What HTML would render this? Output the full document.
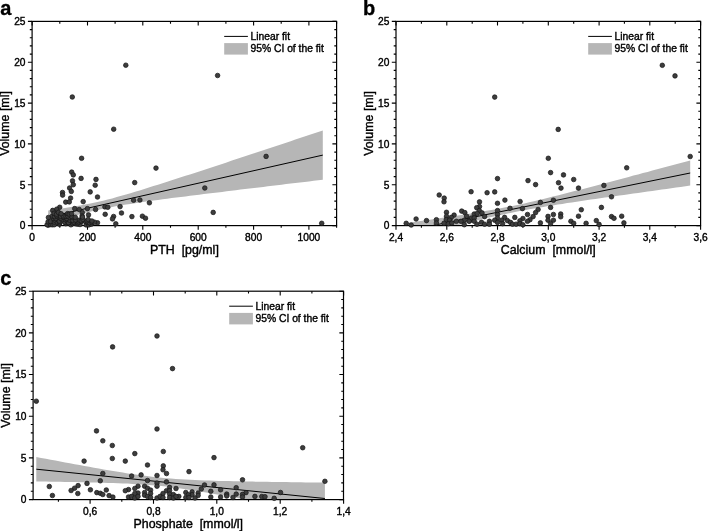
<!DOCTYPE html>
<html lang="en"><head><meta charset="utf-8"><title>Volume vs PTH, Calcium, Phosphate</title>
<style>html,body{margin:0;padding:0;background:#fff}svg{display:block;filter:grayscale(1)}text{font-family:"Liberation Sans",Arial,sans-serif;fill:#000;stroke:#000;stroke-width:.38px}.tk{font-size:10.2px}.ax{font-size:12.4px;stroke-width:.4px}.lg{font-size:10.3px}.pl{font-size:20px;font-weight:bold;stroke-width:.3px}.d circle{fill:#3d3d3d;stroke:#161616;stroke-width:.7}.fr{fill:none;stroke:#000;stroke-width:1.2}.t{stroke:#000;stroke-width:1.1}.band{fill:#b6b6b6}.fit{stroke:#000;stroke-width:1;fill:none}</style></head><body>
<svg width="708" height="531" viewBox="0 0 708 531">
<rect width="708" height="531" fill="#fff"/>
<g id="panel-a">
<clipPath id="clip-a"><rect x="32.1" y="21.4" width="304.5" height="204.2"/></clipPath>
<g clip-path="url(#clip-a)"><polygon class="band" points="48.2,210.4 52.7,209.8 57.3,209.1 61.9,208.5 66.5,207.8 71.0,207.0 75.6,206.3 80.2,205.5 84.8,204.6 89.3,203.7 93.9,202.8 98.5,201.8 103.1,200.7 107.7,199.5 112.2,198.4 116.8,197.1 121.4,195.8 126.0,194.5 130.5,193.2 135.1,191.8 139.7,190.4 144.3,189.0 148.8,187.6 153.4,186.1 158.0,184.7 162.6,183.2 167.2,181.8 171.7,180.3 176.3,178.8 180.9,177.3 185.5,175.8 190.0,174.4 194.6,172.9 199.2,171.4 203.8,169.9 208.3,168.4 212.9,166.9 217.5,165.4 222.1,163.9 226.6,162.4 231.2,160.8 235.8,159.3 240.4,157.8 245.0,156.3 249.5,154.8 254.1,153.3 258.7,151.8 263.3,150.3 267.8,148.7 272.4,147.2 277.0,145.7 281.6,144.2 286.1,142.7 290.7,141.2 295.3,139.6 299.9,138.1 304.5,136.6 309.0,135.1 313.6,133.6 318.2,132.1 322.8,130.5 322.8,179.7 318.2,180.3 313.6,180.8 309.0,181.4 304.5,181.9 299.9,182.5 295.3,183.0 290.7,183.6 286.1,184.1 281.6,184.7 277.0,185.2 272.4,185.8 267.8,186.3 263.3,186.9 258.7,187.4 254.1,188.0 249.5,188.5 245.0,189.1 240.4,189.6 235.8,190.2 231.2,190.7 226.6,191.3 222.1,191.9 217.5,192.4 212.9,193.0 208.3,193.5 203.8,194.1 199.2,194.7 194.6,195.2 190.0,195.8 185.5,196.4 180.9,197.0 176.3,197.6 171.7,198.1 167.2,198.7 162.6,199.3 158.0,200.0 153.4,200.6 148.8,201.2 144.3,201.8 139.7,202.5 135.1,203.2 130.5,203.9 126.0,204.6 121.4,205.3 116.8,206.1 112.2,206.9 107.7,207.8 103.1,208.7 98.5,209.7 93.9,210.8 89.3,211.9 84.8,213.1 80.2,214.3 75.6,215.6 71.0,216.9 66.5,218.2 61.9,219.6 57.3,221.0 52.7,222.4 48.2,223.8"/>
<line class="fit" x1="48.2" y1="217.1" x2="322.8" y2="155.1"/></g>
<rect class="fr" x="32.1" y="21.4" width="304.5" height="204.2"/>
<path class="t" d="M32.1 225.55v4.2M32.1 21.4v4.2M87.5 225.55v4.2M87.5 21.4v4.2M142.8 225.55v4.2M142.8 21.4v4.2M198.2 225.55v4.2M198.2 21.4v4.2M253.6 225.55v4.2M253.6 21.4v4.2M308.9 225.55v4.2M308.9 21.4v4.2M59.8 225.55v2.3M59.8 21.4v2.3M115.1 225.55v2.3M115.1 21.4v2.3M170.5 225.55v2.3M170.5 21.4v2.3M225.9 225.55v2.3M225.9 21.4v2.3M281.2 225.55v2.3M281.2 21.4v2.3M336.6 225.55v2.3M336.6 21.4v2.3M32.1 225.6h-4.2M336.6 225.6h-4.2M32.1 217.4h-2.3M336.6 217.4h-2.3M32.1 209.2h-2.3M336.6 209.2h-2.3M32.1 201.1h-2.3M336.6 201.1h-2.3M32.1 192.9h-2.3M336.6 192.9h-2.3M32.1 184.7h-4.2M336.6 184.7h-4.2M32.1 176.6h-2.3M336.6 176.6h-2.3M32.1 168.4h-2.3M336.6 168.4h-2.3M32.1 160.2h-2.3M336.6 160.2h-2.3M32.1 152.1h-2.3M336.6 152.1h-2.3M32.1 143.9h-4.2M336.6 143.9h-4.2M32.1 135.7h-2.3M336.6 135.7h-2.3M32.1 127.6h-2.3M336.6 127.6h-2.3M32.1 119.4h-2.3M336.6 119.4h-2.3M32.1 111.2h-2.3M336.6 111.2h-2.3M32.1 103.1h-4.2M336.6 103.1h-4.2M32.1 94.9h-2.3M336.6 94.9h-2.3M32.1 86.7h-2.3M336.6 86.7h-2.3M32.1 78.6h-2.3M336.6 78.6h-2.3M32.1 70.4h-2.3M336.6 70.4h-2.3M32.1 62.2h-4.2M336.6 62.2h-4.2M32.1 54.1h-2.3M336.6 54.1h-2.3M32.1 45.9h-2.3M336.6 45.9h-2.3M32.1 37.7h-2.3M336.6 37.7h-2.3M32.1 29.6h-2.3M336.6 29.6h-2.3M32.1 21.4h-4.2M336.6 21.4h-4.2"/>
<g class="d">
<circle cx="71.7" cy="172.1" r="2.3"/>
<circle cx="73.3" cy="174.9" r="2.3"/>
<circle cx="81.1" cy="178.4" r="2.3"/>
<circle cx="96.0" cy="179.4" r="2.3"/>
<circle cx="72.5" cy="180.9" r="2.3"/>
<circle cx="73.3" cy="184.7" r="2.3"/>
<circle cx="95.2" cy="185.2" r="2.3"/>
<circle cx="69.6" cy="188.0" r="2.3"/>
<circle cx="71.3" cy="191.4" r="2.3"/>
<circle cx="62.5" cy="192.5" r="2.3"/>
<circle cx="62.6" cy="195.1" r="2.3"/>
<circle cx="90.2" cy="191.9" r="2.3"/>
<circle cx="97.5" cy="197.0" r="2.3"/>
<circle cx="70.6" cy="198.1" r="2.3"/>
<circle cx="65.7" cy="202.1" r="2.3"/>
<circle cx="69.3" cy="201.9" r="2.3"/>
<circle cx="83.2" cy="201.6" r="2.3"/>
<circle cx="59.7" cy="207.3" r="2.3"/>
<circle cx="56.7" cy="209.2" r="2.3"/>
<circle cx="52.7" cy="210.4" r="2.3"/>
<circle cx="74.7" cy="208.6" r="2.3"/>
<circle cx="79.2" cy="209.5" r="2.3"/>
<circle cx="87.4" cy="208.6" r="2.3"/>
<circle cx="95.6" cy="209.5" r="2.3"/>
<circle cx="104.9" cy="206.9" r="2.3"/>
<circle cx="107.8" cy="207.3" r="2.3"/>
<circle cx="105.2" cy="214.3" r="2.3"/>
<circle cx="82.3" cy="212.6" r="2.3"/>
<circle cx="88.5" cy="214.9" r="2.3"/>
<circle cx="82.1" cy="216.0" r="2.3"/>
<circle cx="48.4" cy="217.5" r="2.3"/>
<circle cx="97.5" cy="222.8" r="2.3"/>
<circle cx="48.2" cy="225.2" r="2.3"/>
<circle cx="50.4" cy="223.1" r="2.3"/>
<circle cx="156.0" cy="168.1" r="2.3"/>
<circle cx="134.7" cy="182.6" r="2.3"/>
<circle cx="133.6" cy="200.2" r="2.3"/>
<circle cx="139.9" cy="200.0" r="2.3"/>
<circle cx="149.4" cy="202.8" r="2.3"/>
<circle cx="120.1" cy="206.6" r="2.3"/>
<circle cx="121.5" cy="213.0" r="2.3"/>
<circle cx="113.6" cy="216.5" r="2.3"/>
<circle cx="112.5" cy="218.9" r="2.3"/>
<circle cx="131.9" cy="216.6" r="2.3"/>
<circle cx="142.4" cy="216.2" r="2.3"/>
<circle cx="145.5" cy="218.2" r="2.3"/>
<circle cx="115.8" cy="223.8" r="2.3"/>
<circle cx="113.7" cy="129.2" r="2.3"/>
<circle cx="266.1" cy="156.4" r="2.3"/>
<circle cx="204.8" cy="188.0" r="2.3"/>
<circle cx="213.2" cy="212.4" r="2.3"/>
<circle cx="321.7" cy="223.3" r="2.3"/>
<circle cx="125.8" cy="65.2" r="2.3"/>
<circle cx="72.3" cy="97.0" r="2.3"/>
<circle cx="217.6" cy="75.5" r="2.3"/>
<circle cx="81.6" cy="158.3" r="2.3"/>
<circle cx="47.1" cy="224.7" r="2.3"/>
<circle cx="50.7" cy="224.6" r="2.3"/>
<circle cx="52.4" cy="224.8" r="2.3"/>
<circle cx="54.3" cy="224.7" r="2.3"/>
<circle cx="59.3" cy="224.2" r="2.3"/>
<circle cx="65.8" cy="223.7" r="2.3"/>
<circle cx="70.9" cy="224.8" r="2.3"/>
<circle cx="72.5" cy="223.6" r="2.3"/>
<circle cx="75.9" cy="223.8" r="2.3"/>
<circle cx="77.7" cy="224.1" r="2.3"/>
<circle cx="80.0" cy="224.5" r="2.3"/>
<circle cx="86.2" cy="224.9" r="2.3"/>
<circle cx="88.8" cy="224.9" r="2.3"/>
<circle cx="91.3" cy="224.2" r="2.3"/>
<circle cx="48.1" cy="221.8" r="2.3"/>
<circle cx="50.6" cy="221.5" r="2.3"/>
<circle cx="54.3" cy="222.1" r="2.3"/>
<circle cx="57.1" cy="222.1" r="2.3"/>
<circle cx="59.9" cy="223.0" r="2.3"/>
<circle cx="60.4" cy="221.8" r="2.3"/>
<circle cx="65.0" cy="222.3" r="2.3"/>
<circle cx="67.8" cy="222.1" r="2.3"/>
<circle cx="68.4" cy="222.6" r="2.3"/>
<circle cx="72.5" cy="221.9" r="2.3"/>
<circle cx="73.6" cy="222.0" r="2.3"/>
<circle cx="78.1" cy="222.9" r="2.3"/>
<circle cx="78.9" cy="221.9" r="2.3"/>
<circle cx="81.4" cy="221.5" r="2.3"/>
<circle cx="85.6" cy="221.7" r="2.3"/>
<circle cx="87.6" cy="222.3" r="2.3"/>
<circle cx="89.4" cy="222.8" r="2.3"/>
<circle cx="91.9" cy="222.6" r="2.3"/>
<circle cx="94.5" cy="222.2" r="2.3"/>
<circle cx="54.4" cy="219.9" r="2.3"/>
<circle cx="58.4" cy="220.4" r="2.3"/>
<circle cx="59.3" cy="221.1" r="2.3"/>
<circle cx="62.2" cy="219.6" r="2.3"/>
<circle cx="66.0" cy="219.8" r="2.3"/>
<circle cx="67.6" cy="219.3" r="2.3"/>
<circle cx="69.7" cy="220.2" r="2.3"/>
<circle cx="72.6" cy="220.3" r="2.3"/>
<circle cx="75.5" cy="220.0" r="2.3"/>
<circle cx="79.4" cy="220.1" r="2.3"/>
<circle cx="81.2" cy="220.8" r="2.3"/>
<circle cx="82.9" cy="219.4" r="2.3"/>
<circle cx="87.1" cy="220.7" r="2.3"/>
<circle cx="88.2" cy="219.5" r="2.3"/>
<circle cx="91.9" cy="221.0" r="2.3"/>
<circle cx="53.1" cy="218.3" r="2.3"/>
<circle cx="55.8" cy="218.5" r="2.3"/>
<circle cx="59.1" cy="217.5" r="2.3"/>
<circle cx="60.8" cy="218.3" r="2.3"/>
<circle cx="63.2" cy="217.3" r="2.3"/>
<circle cx="66.8" cy="218.5" r="2.3"/>
<circle cx="69.6" cy="217.4" r="2.3"/>
<circle cx="72.8" cy="217.2" r="2.3"/>
<circle cx="82.5" cy="217.1" r="2.3"/>
<circle cx="52.4" cy="216.1" r="2.3"/>
<circle cx="54.6" cy="216.6" r="2.3"/>
<circle cx="56.7" cy="215.7" r="2.3"/>
<circle cx="60.7" cy="216.4" r="2.3"/>
<circle cx="63.3" cy="216.0" r="2.3"/>
<circle cx="66.0" cy="216.4" r="2.3"/>
<circle cx="67.7" cy="216.0" r="2.3"/>
<circle cx="71.5" cy="216.3" r="2.3"/>
<circle cx="54.1" cy="213.3" r="2.3"/>
<circle cx="56.5" cy="214.2" r="2.3"/>
<circle cx="58.4" cy="212.4" r="2.3"/>
<circle cx="61.1" cy="213.7" r="2.3"/>
<circle cx="67.6" cy="213.6" r="2.3"/>
<circle cx="69.2" cy="214.1" r="2.3"/>
<circle cx="71.5" cy="213.7" r="2.3"/>
<circle cx="75.3" cy="217.2" r="2.3"/>
</g>
<text class="tk" x="32.1" y="240.9" text-anchor="middle">0</text>
<text class="tk" x="87.5" y="240.9" text-anchor="middle">200</text>
<text class="tk" x="142.8" y="240.9" text-anchor="middle">400</text>
<text class="tk" x="198.2" y="240.9" text-anchor="middle">600</text>
<text class="tk" x="253.6" y="240.9" text-anchor="middle">800</text>
<text class="tk" x="308.9" y="240.9" text-anchor="middle">1000</text>
<text class="tk" x="25.5" y="229.4" text-anchor="end">0</text>
<text class="tk" x="25.5" y="188.5" text-anchor="end">5</text>
<text class="tk" x="25.5" y="147.7" text-anchor="end">10</text>
<text class="tk" x="25.5" y="106.9" text-anchor="end">15</text>
<text class="tk" x="25.5" y="66.0" text-anchor="end">20</text>
<text class="tk" x="25.5" y="25.2" text-anchor="end">25</text>
<text class="ax" x="184.4" y="254.0" text-anchor="middle" xml:space="preserve">PTH  [pg/ml]</text>
<text class="ax" transform="translate(9.4 123.5) rotate(-90)" text-anchor="middle">Volume [ml]</text>
<line class="fit" x1="224.2" y1="36.4" x2="247.9" y2="36.4"/>
<text class="lg" x="250.5" y="39.9">Linear fit</text>
<rect x="224.2" y="43.1" width="23.7" height="11.5" fill="#b6b6b6"/>
<text class="lg" x="250.5" y="52.4">95% CI of the fit</text>
<text class="pl" x="0.3" y="14.6">a</text>
</g>
<g id="panel-b">
<clipPath id="clip-b"><rect x="396.0" y="21.4" width="304.6" height="204.2"/></clipPath>
<g clip-path="url(#clip-b)"><polygon class="band" points="406.2,223.1 410.9,222.4 415.6,221.8 420.4,221.1 425.1,220.4 429.8,219.7 434.6,219.0 439.3,218.3 444.0,217.6 448.8,216.9 453.5,216.2 458.2,215.5 463.0,214.7 467.7,214.0 472.4,213.2 477.2,212.5 481.9,211.7 486.6,210.8 491.4,210.0 496.1,209.2 500.8,208.3 505.6,207.3 510.3,206.4 515.0,205.4 519.8,204.4 524.5,203.4 529.2,202.3 534.0,201.2 538.7,200.1 543.4,199.0 548.2,197.8 552.9,196.6 557.6,195.4 562.4,194.3 567.1,193.0 571.8,191.8 576.6,190.6 581.3,189.4 586.0,188.2 590.8,186.9 595.5,185.7 600.2,184.4 605.0,183.2 609.7,181.9 614.4,180.7 619.2,179.4 623.9,178.2 628.7,176.9 633.4,175.6 638.1,174.4 642.9,173.1 647.6,171.9 652.3,170.6 657.1,169.3 661.8,168.0 666.5,166.8 671.3,165.5 676.0,164.2 680.7,163.0 685.5,161.7 690.2,160.4 690.2,185.6 685.5,186.3 680.7,187.0 676.0,187.6 671.3,188.3 666.5,188.9 661.8,189.6 657.1,190.2 652.3,190.9 647.6,191.6 642.9,192.2 638.1,192.9 633.4,193.6 628.7,194.2 623.9,194.9 619.2,195.6 614.4,196.2 609.7,196.9 605.0,197.6 600.2,198.3 595.5,198.9 590.8,199.6 586.0,200.3 581.3,201.0 576.6,201.7 571.8,202.4 567.1,203.1 562.4,203.9 557.6,204.6 552.9,205.4 548.2,206.1 543.4,206.9 538.7,207.7 534.0,208.5 529.2,209.3 524.5,210.2 519.8,211.1 515.0,212.0 510.3,212.9 505.6,213.9 500.8,214.9 496.1,216.0 491.4,217.0 486.6,218.1 481.9,219.2 477.2,220.4 472.4,221.5 467.7,222.7 463.0,223.9 458.2,225.1 453.5,226.3 448.8,227.5 444.0,228.7 439.3,229.9 434.6,231.2 429.8,232.4 425.1,233.6 420.4,234.9 415.6,236.1 410.9,237.4 406.2,238.6"/>
<line class="fit" x1="406.2" y1="230.9" x2="690.2" y2="173.0"/></g>
<rect class="fr" x="396.0" y="21.4" width="304.6" height="204.2"/>
<path class="t" d="M396.0 225.55v4.2M396.0 21.4v4.2M446.8 225.55v4.2M446.8 21.4v4.2M497.5 225.55v4.2M497.5 21.4v4.2M548.3 225.55v4.2M548.3 21.4v4.2M599.1 225.55v4.2M599.1 21.4v4.2M649.8 225.55v4.2M649.8 21.4v4.2M700.6 225.55v4.2M700.6 21.4v4.2M421.4 225.55v2.3M421.4 21.4v2.3M472.2 225.55v2.3M472.2 21.4v2.3M522.9 225.55v2.3M522.9 21.4v2.3M573.7 225.55v2.3M573.7 21.4v2.3M624.4 225.55v2.3M624.4 21.4v2.3M675.2 225.55v2.3M675.2 21.4v2.3M396.0 225.6h-4.2M700.6 225.6h-4.2M396.0 217.4h-2.3M700.6 217.4h-2.3M396.0 209.2h-2.3M700.6 209.2h-2.3M396.0 201.1h-2.3M700.6 201.1h-2.3M396.0 192.9h-2.3M700.6 192.9h-2.3M396.0 184.7h-4.2M700.6 184.7h-4.2M396.0 176.6h-2.3M700.6 176.6h-2.3M396.0 168.4h-2.3M700.6 168.4h-2.3M396.0 160.2h-2.3M700.6 160.2h-2.3M396.0 152.1h-2.3M700.6 152.1h-2.3M396.0 143.9h-4.2M700.6 143.9h-4.2M396.0 135.7h-2.3M700.6 135.7h-2.3M396.0 127.6h-2.3M700.6 127.6h-2.3M396.0 119.4h-2.3M700.6 119.4h-2.3M396.0 111.2h-2.3M700.6 111.2h-2.3M396.0 103.1h-4.2M700.6 103.1h-4.2M396.0 94.9h-2.3M700.6 94.9h-2.3M396.0 86.7h-2.3M700.6 86.7h-2.3M396.0 78.6h-2.3M700.6 78.6h-2.3M396.0 70.4h-2.3M700.6 70.4h-2.3M396.0 62.2h-4.2M700.6 62.2h-4.2M396.0 54.1h-2.3M700.6 54.1h-2.3M396.0 45.9h-2.3M700.6 45.9h-2.3M396.0 37.7h-2.3M700.6 37.7h-2.3M396.0 29.6h-2.3M700.6 29.6h-2.3M396.0 21.4h-4.2M700.6 21.4h-4.2"/>
<g class="d">
<circle cx="406.2" cy="223.3" r="2.3"/>
<circle cx="411.2" cy="225.0" r="2.3"/>
<circle cx="416.1" cy="219.0" r="2.3"/>
<circle cx="426.5" cy="220.6" r="2.3"/>
<circle cx="436.4" cy="219.7" r="2.3"/>
<circle cx="436.4" cy="223.0" r="2.3"/>
<circle cx="439.2" cy="195.0" r="2.3"/>
<circle cx="444.2" cy="198.1" r="2.3"/>
<circle cx="444.0" cy="201.8" r="2.3"/>
<circle cx="446.5" cy="212.3" r="2.3"/>
<circle cx="446.5" cy="216.2" r="2.3"/>
<circle cx="446.3" cy="219.7" r="2.3"/>
<circle cx="444.0" cy="223.3" r="2.3"/>
<circle cx="454.1" cy="215.1" r="2.3"/>
<circle cx="451.3" cy="217.4" r="2.3"/>
<circle cx="449.6" cy="220.2" r="2.3"/>
<circle cx="448.5" cy="223.7" r="2.3"/>
<circle cx="451.8" cy="223.0" r="2.3"/>
<circle cx="456.4" cy="221.3" r="2.3"/>
<circle cx="461.7" cy="211.1" r="2.3"/>
<circle cx="464.8" cy="212.6" r="2.3"/>
<circle cx="466.6" cy="216.2" r="2.3"/>
<circle cx="464.3" cy="220.2" r="2.3"/>
<circle cx="461.0" cy="221.3" r="2.3"/>
<circle cx="464.3" cy="224.7" r="2.3"/>
<circle cx="471.1" cy="191.7" r="2.3"/>
<circle cx="469.6" cy="220.8" r="2.3"/>
<circle cx="471.4" cy="218.0" r="2.3"/>
<circle cx="497.5" cy="178.6" r="2.3"/>
<circle cx="528.0" cy="180.6" r="2.3"/>
<circle cx="535.6" cy="184.6" r="2.3"/>
<circle cx="487.1" cy="192.7" r="2.3"/>
<circle cx="494.7" cy="191.9" r="2.3"/>
<circle cx="504.9" cy="200.1" r="2.3"/>
<circle cx="520.1" cy="201.5" r="2.3"/>
<circle cx="479.5" cy="201.9" r="2.3"/>
<circle cx="497.5" cy="203.3" r="2.3"/>
<circle cx="540.4" cy="202.4" r="2.3"/>
<circle cx="479.5" cy="206.6" r="2.3"/>
<circle cx="476.7" cy="207.7" r="2.3"/>
<circle cx="510.0" cy="208.3" r="2.3"/>
<circle cx="522.4" cy="208.6" r="2.3"/>
<circle cx="538.1" cy="209.5" r="2.3"/>
<circle cx="497.5" cy="210.6" r="2.3"/>
<circle cx="479.3" cy="210.6" r="2.3"/>
<circle cx="535.6" cy="212.6" r="2.3"/>
<circle cx="482.0" cy="212.9" r="2.3"/>
<circle cx="474.2" cy="214.0" r="2.3"/>
<circle cx="477.2" cy="213.5" r="2.3"/>
<circle cx="527.5" cy="214.5" r="2.3"/>
<circle cx="497.5" cy="214.5" r="2.3"/>
<circle cx="484.6" cy="216.6" r="2.3"/>
<circle cx="533.1" cy="216.6" r="2.3"/>
<circle cx="504.6" cy="217.4" r="2.3"/>
<circle cx="514.8" cy="217.4" r="2.3"/>
<circle cx="497.5" cy="218.0" r="2.3"/>
<circle cx="522.9" cy="218.5" r="2.3"/>
<circle cx="530.0" cy="219.7" r="2.3"/>
<circle cx="474.2" cy="218.0" r="2.3"/>
<circle cx="494.7" cy="220.2" r="2.3"/>
<circle cx="501.8" cy="220.2" r="2.3"/>
<circle cx="507.4" cy="220.6" r="2.3"/>
<circle cx="519.9" cy="220.8" r="2.3"/>
<circle cx="527.5" cy="221.3" r="2.3"/>
<circle cx="489.4" cy="221.3" r="2.3"/>
<circle cx="481.5" cy="222.3" r="2.3"/>
<circle cx="540.4" cy="222.9" r="2.3"/>
<circle cx="469.1" cy="221.3" r="2.3"/>
<circle cx="474.2" cy="221.3" r="2.3"/>
<circle cx="477.0" cy="224.2" r="2.3"/>
<circle cx="484.6" cy="224.2" r="2.3"/>
<circle cx="489.4" cy="224.2" r="2.3"/>
<circle cx="497.5" cy="222.4" r="2.3"/>
<circle cx="502.6" cy="223.7" r="2.3"/>
<circle cx="510.5" cy="222.4" r="2.3"/>
<circle cx="512.5" cy="224.2" r="2.3"/>
<circle cx="516.1" cy="224.2" r="2.3"/>
<circle cx="519.9" cy="223.7" r="2.3"/>
<circle cx="522.9" cy="224.7" r="2.3"/>
<circle cx="550.6" cy="172.6" r="2.3"/>
<circle cx="563.5" cy="174.9" r="2.3"/>
<circle cx="573.7" cy="179.5" r="2.3"/>
<circle cx="558.5" cy="182.7" r="2.3"/>
<circle cx="561.0" cy="188.1" r="2.3"/>
<circle cx="578.5" cy="188.1" r="2.3"/>
<circle cx="603.9" cy="185.4" r="2.3"/>
<circle cx="611.5" cy="196.8" r="2.3"/>
<circle cx="553.4" cy="200.2" r="2.3"/>
<circle cx="550.6" cy="207.4" r="2.3"/>
<circle cx="601.4" cy="207.4" r="2.3"/>
<circle cx="581.3" cy="209.7" r="2.3"/>
<circle cx="553.4" cy="214.5" r="2.3"/>
<circle cx="560.7" cy="214.0" r="2.3"/>
<circle cx="560.7" cy="216.8" r="2.3"/>
<circle cx="578.5" cy="216.2" r="2.3"/>
<circle cx="548.0" cy="216.4" r="2.3"/>
<circle cx="548.0" cy="220.2" r="2.3"/>
<circle cx="553.4" cy="220.2" r="2.3"/>
<circle cx="550.6" cy="223.6" r="2.3"/>
<circle cx="570.9" cy="221.3" r="2.3"/>
<circle cx="573.7" cy="223.3" r="2.3"/>
<circle cx="586.1" cy="223.3" r="2.3"/>
<circle cx="596.3" cy="220.6" r="2.3"/>
<circle cx="599.1" cy="224.4" r="2.3"/>
<circle cx="611.5" cy="216.6" r="2.3"/>
<circle cx="614.0" cy="218.3" r="2.3"/>
<circle cx="621.7" cy="216.2" r="2.3"/>
<circle cx="623.9" cy="222.9" r="2.3"/>
<circle cx="662.3" cy="65.3" r="2.3"/>
<circle cx="675.0" cy="75.9" r="2.3"/>
<circle cx="558.2" cy="129.4" r="2.3"/>
<circle cx="690.2" cy="156.5" r="2.3"/>
<circle cx="626.7" cy="167.8" r="2.3"/>
<circle cx="494.7" cy="97.1" r="2.3"/>
<circle cx="548.3" cy="158.3" r="2.3"/>
</g>
<text class="tk" x="396.0" y="240.9" text-anchor="middle">2,4</text>
<text class="tk" x="446.8" y="240.9" text-anchor="middle">2,6</text>
<text class="tk" x="497.5" y="240.9" text-anchor="middle">2,8</text>
<text class="tk" x="548.3" y="240.9" text-anchor="middle">3,0</text>
<text class="tk" x="599.1" y="240.9" text-anchor="middle">3,2</text>
<text class="tk" x="649.8" y="240.9" text-anchor="middle">3,4</text>
<text class="tk" x="700.6" y="240.9" text-anchor="middle">3,6</text>
<text class="tk" x="389.4" y="229.4" text-anchor="end">0</text>
<text class="tk" x="389.4" y="188.5" text-anchor="end">5</text>
<text class="tk" x="389.4" y="147.7" text-anchor="end">10</text>
<text class="tk" x="389.4" y="106.9" text-anchor="end">15</text>
<text class="tk" x="389.4" y="66.0" text-anchor="end">20</text>
<text class="tk" x="389.4" y="25.2" text-anchor="end">25</text>
<text class="ax" x="548.3" y="254.0" text-anchor="middle" xml:space="preserve">Calcium  [mmol/l]</text>
<text class="ax" transform="translate(373.3 123.5) rotate(-90)" text-anchor="middle">Volume [ml]</text>
<line class="fit" x1="588.2" y1="36.4" x2="611.9" y2="36.4"/>
<text class="lg" x="614.5" y="39.9">Linear fit</text>
<rect x="588.2" y="43.1" width="23.7" height="11.5" fill="#b6b6b6"/>
<text class="lg" x="614.5" y="52.4">95% CI of the fit</text>
<text class="pl" x="363.0" y="14.6">b</text>
</g>
<g id="panel-c">
<clipPath id="clip-c"><rect x="33.1" y="291.2" width="310.4" height="208.4"/></clipPath>
<g clip-path="url(#clip-c)"><polygon class="band" points="36.3,457.0 41.1,457.9 45.9,458.8 50.7,459.7 55.5,460.6 60.3,461.5 65.1,462.4 69.9,463.3 74.7,464.2 79.6,465.1 84.4,465.9 89.2,466.8 94.0,467.7 98.8,468.5 103.6,469.4 108.4,470.2 113.2,471.0 118.0,471.8 122.8,472.6 127.7,473.4 132.5,474.1 137.3,474.8 142.1,475.5 146.9,476.1 151.7,476.7 156.5,477.3 161.3,477.8 166.1,478.2 170.9,478.6 175.8,479.0 180.6,479.3 185.4,479.6 190.2,479.8 195.0,480.0 199.8,480.2 204.6,480.4 209.4,480.6 214.2,480.7 219.0,480.9 223.9,481.0 228.7,481.1 233.5,481.2 238.3,481.3 243.1,481.4 247.9,481.5 252.7,481.6 257.5,481.7 262.3,481.8 267.1,481.8 272.0,481.9 276.8,482.0 281.6,482.1 286.4,482.1 291.2,482.2 296.0,482.2 300.8,482.3 305.6,482.4 310.4,482.4 315.2,482.5 320.0,482.5 324.9,482.6 324.9,514.5 320.0,513.6 315.2,512.6 310.4,511.7 305.6,510.8 300.8,509.9 296.0,509.0 291.2,508.1 286.4,507.1 281.6,506.2 276.8,505.3 272.0,504.4 267.1,503.5 262.3,502.6 257.5,501.7 252.7,500.8 247.9,499.9 243.1,499.0 238.3,498.2 233.5,497.3 228.7,496.4 223.9,495.6 219.0,494.7 214.2,493.9 209.4,493.0 204.6,492.2 199.8,491.4 195.0,490.7 190.2,489.9 185.4,489.2 180.6,488.5 175.8,487.8 170.9,487.2 166.1,486.6 161.3,486.1 156.5,485.6 151.7,485.2 146.9,484.8 142.1,484.5 137.3,484.2 132.5,483.9 127.7,483.6 122.8,483.4 118.0,483.2 113.2,483.1 108.4,482.9 103.6,482.8 98.8,482.6 94.0,482.5 89.2,482.4 84.4,482.3 79.6,482.2 74.7,482.1 69.9,482.0 65.1,481.9 60.3,481.8 55.5,481.8 50.7,481.7 45.9,481.6 41.1,481.6 36.3,481.5"/>
<line class="fit" x1="36.3" y1="469.2" x2="324.9" y2="498.5"/></g>
<rect class="fr" x="33.1" y="291.2" width="310.4" height="208.4"/>
<path class="t" d="M90.1 499.55v4.2M90.1 291.2v4.2M153.5 499.55v4.2M153.5 291.2v4.2M216.8 499.55v4.2M216.8 291.2v4.2M280.2 499.55v4.2M280.2 291.2v4.2M343.6 499.55v4.2M343.6 291.2v4.2M58.4 499.55v2.3M58.4 291.2v2.3M121.8 499.55v2.3M121.8 291.2v2.3M185.2 499.55v2.3M185.2 291.2v2.3M248.5 499.55v2.3M248.5 291.2v2.3M311.9 499.55v2.3M311.9 291.2v2.3M33.1 499.6h-4.2M343.55 499.6h-4.2M33.1 491.2h-2.3M343.55 491.2h-2.3M33.1 482.9h-2.3M343.55 482.9h-2.3M33.1 474.5h-2.3M343.55 474.5h-2.3M33.1 466.2h-2.3M343.55 466.2h-2.3M33.1 457.9h-4.2M343.55 457.9h-4.2M33.1 449.5h-2.3M343.55 449.5h-2.3M33.1 441.2h-2.3M343.55 441.2h-2.3M33.1 432.9h-2.3M343.55 432.9h-2.3M33.1 424.5h-2.3M343.55 424.5h-2.3M33.1 416.2h-4.2M343.55 416.2h-4.2M33.1 407.9h-2.3M343.55 407.9h-2.3M33.1 399.5h-2.3M343.55 399.5h-2.3M33.1 391.2h-2.3M343.55 391.2h-2.3M33.1 382.9h-2.3M343.55 382.9h-2.3M33.1 374.5h-4.2M343.55 374.5h-4.2M33.1 366.2h-2.3M343.55 366.2h-2.3M33.1 357.9h-2.3M343.55 357.9h-2.3M33.1 349.5h-2.3M343.55 349.5h-2.3M33.1 341.2h-2.3M343.55 341.2h-2.3M33.1 332.9h-4.2M343.55 332.9h-4.2M33.1 324.5h-2.3M343.55 324.5h-2.3M33.1 316.2h-2.3M343.55 316.2h-2.3M33.1 307.9h-2.3M343.55 307.9h-2.3M33.1 299.5h-2.3M343.55 299.5h-2.3M33.1 291.2h-4.2M343.55 291.2h-4.2"/>
<g class="d">
<circle cx="49.3" cy="486.5" r="2.3"/>
<circle cx="52.4" cy="495.5" r="2.3"/>
<circle cx="84.1" cy="461.1" r="2.3"/>
<circle cx="102.8" cy="473.5" r="2.3"/>
<circle cx="100.3" cy="480.8" r="2.3"/>
<circle cx="87.0" cy="483.4" r="2.3"/>
<circle cx="78.1" cy="485.6" r="2.3"/>
<circle cx="74.6" cy="488.2" r="2.3"/>
<circle cx="71.1" cy="490.5" r="2.3"/>
<circle cx="77.8" cy="493.5" r="2.3"/>
<circle cx="90.4" cy="489.8" r="2.3"/>
<circle cx="96.8" cy="492.6" r="2.3"/>
<circle cx="100.3" cy="493.3" r="2.3"/>
<circle cx="102.8" cy="494.5" r="2.3"/>
<circle cx="106.3" cy="490.0" r="2.3"/>
<circle cx="109.1" cy="495.6" r="2.3"/>
<circle cx="112.3" cy="445.5" r="2.3"/>
<circle cx="112.3" cy="458.5" r="2.3"/>
<circle cx="134.8" cy="453.6" r="2.3"/>
<circle cx="163.3" cy="451.5" r="2.3"/>
<circle cx="125.3" cy="461.1" r="2.3"/>
<circle cx="147.5" cy="465.0" r="2.3"/>
<circle cx="163.3" cy="465.9" r="2.3"/>
<circle cx="163.0" cy="469.8" r="2.3"/>
<circle cx="166.5" cy="473.5" r="2.3"/>
<circle cx="141.1" cy="474.9" r="2.3"/>
<circle cx="131.6" cy="476.0" r="2.3"/>
<circle cx="157.0" cy="475.5" r="2.3"/>
<circle cx="147.5" cy="480.5" r="2.3"/>
<circle cx="166.5" cy="481.9" r="2.3"/>
<circle cx="157.0" cy="483.0" r="2.3"/>
<circle cx="157.0" cy="486.2" r="2.3"/>
<circle cx="138.0" cy="486.2" r="2.3"/>
<circle cx="144.6" cy="486.2" r="2.3"/>
<circle cx="134.8" cy="488.5" r="2.3"/>
<circle cx="147.5" cy="488.2" r="2.3"/>
<circle cx="150.6" cy="490.1" r="2.3"/>
<circle cx="169.6" cy="487.4" r="2.3"/>
<circle cx="176.0" cy="488.5" r="2.3"/>
<circle cx="128.5" cy="489.6" r="2.3"/>
<circle cx="125.3" cy="490.7" r="2.3"/>
<circle cx="166.5" cy="490.7" r="2.3"/>
<circle cx="169.6" cy="490.7" r="2.3"/>
<circle cx="144.6" cy="492.5" r="2.3"/>
<circle cx="138.0" cy="493.0" r="2.3"/>
<circle cx="134.8" cy="493.5" r="2.3"/>
<circle cx="150.6" cy="493.5" r="2.3"/>
<circle cx="163.0" cy="493.5" r="2.3"/>
<circle cx="169.6" cy="494.1" r="2.3"/>
<circle cx="173.4" cy="494.6" r="2.3"/>
<circle cx="185.8" cy="492.5" r="2.3"/>
<circle cx="185.8" cy="497.5" r="2.3"/>
<circle cx="178.8" cy="496.4" r="2.3"/>
<circle cx="112.9" cy="497.1" r="2.3"/>
<circle cx="128.5" cy="497.0" r="2.3"/>
<circle cx="131.6" cy="496.4" r="2.3"/>
<circle cx="134.8" cy="498.0" r="2.3"/>
<circle cx="138.0" cy="496.4" r="2.3"/>
<circle cx="144.6" cy="495.2" r="2.3"/>
<circle cx="147.5" cy="496.4" r="2.3"/>
<circle cx="150.6" cy="497.5" r="2.3"/>
<circle cx="157.0" cy="498.0" r="2.3"/>
<circle cx="160.1" cy="496.4" r="2.3"/>
<circle cx="163.0" cy="497.5" r="2.3"/>
<circle cx="169.6" cy="497.5" r="2.3"/>
<circle cx="173.4" cy="498.0" r="2.3"/>
<circle cx="176.0" cy="496.4" r="2.3"/>
<circle cx="189.0" cy="471.6" r="2.3"/>
<circle cx="214.0" cy="457.6" r="2.3"/>
<circle cx="242.5" cy="479.8" r="2.3"/>
<circle cx="214.0" cy="484.9" r="2.3"/>
<circle cx="204.5" cy="485.0" r="2.3"/>
<circle cx="236.2" cy="487.7" r="2.3"/>
<circle cx="201.3" cy="489.0" r="2.3"/>
<circle cx="220.6" cy="489.8" r="2.3"/>
<circle cx="210.8" cy="491.3" r="2.3"/>
<circle cx="198.1" cy="493.0" r="2.3"/>
<circle cx="246.0" cy="492.6" r="2.3"/>
<circle cx="226.7" cy="494.1" r="2.3"/>
<circle cx="236.2" cy="494.1" r="2.3"/>
<circle cx="242.5" cy="494.4" r="2.3"/>
<circle cx="198.1" cy="495.5" r="2.3"/>
<circle cx="192.1" cy="491.9" r="2.3"/>
<circle cx="192.1" cy="494.7" r="2.3"/>
<circle cx="188.3" cy="494.7" r="2.3"/>
<circle cx="189.0" cy="497.5" r="2.3"/>
<circle cx="195.0" cy="498.0" r="2.3"/>
<circle cx="210.8" cy="497.0" r="2.3"/>
<circle cx="220.6" cy="497.0" r="2.3"/>
<circle cx="226.7" cy="496.0" r="2.3"/>
<circle cx="233.0" cy="497.5" r="2.3"/>
<circle cx="242.5" cy="497.0" r="2.3"/>
<circle cx="254.9" cy="496.4" r="2.3"/>
<circle cx="261.8" cy="496.5" r="2.3"/>
<circle cx="265.0" cy="496.7" r="2.3"/>
<circle cx="157.0" cy="336.0" r="2.3"/>
<circle cx="112.6" cy="346.9" r="2.3"/>
<circle cx="172.5" cy="368.6" r="2.3"/>
<circle cx="36.3" cy="401.2" r="2.3"/>
<circle cx="157.0" cy="429.0" r="2.3"/>
<circle cx="96.5" cy="430.9" r="2.3"/>
<circle cx="102.8" cy="440.8" r="2.3"/>
<circle cx="302.7" cy="447.7" r="2.3"/>
<circle cx="324.9" cy="481.3" r="2.3"/>
<circle cx="280.5" cy="492.5" r="2.3"/>
<circle cx="274.2" cy="498.3" r="2.3"/>
</g>
<text class="tk" x="90.1" y="514.9" text-anchor="middle">0,6</text>
<text class="tk" x="153.5" y="514.9" text-anchor="middle">0,8</text>
<text class="tk" x="216.8" y="514.9" text-anchor="middle">1,0</text>
<text class="tk" x="280.2" y="514.9" text-anchor="middle">1,2</text>
<text class="tk" x="343.6" y="514.9" text-anchor="middle">1,4</text>
<text class="tk" x="26.5" y="503.4" text-anchor="end">0</text>
<text class="tk" x="26.5" y="461.7" text-anchor="end">5</text>
<text class="tk" x="26.5" y="420.0" text-anchor="end">10</text>
<text class="tk" x="26.5" y="378.3" text-anchor="end">15</text>
<text class="tk" x="26.5" y="336.7" text-anchor="end">20</text>
<text class="tk" x="26.5" y="295.0" text-anchor="end">25</text>
<text class="ax" x="188.3" y="528.0" text-anchor="middle" xml:space="preserve">Phosphate  [mmol/l]</text>
<text class="ax" transform="translate(10.4 395.4) rotate(-90)" text-anchor="middle">Volume [ml]</text>
<line class="fit" x1="229.2" y1="306.2" x2="252.9" y2="306.2"/>
<text class="lg" x="255.5" y="309.7">Linear fit</text>
<rect x="229.2" y="312.9" width="23.7" height="11.5" fill="#b6b6b6"/>
<text class="lg" x="255.5" y="322.2">95% CI of the fit</text>
<text class="pl" x="0.3" y="284.5">c</text>
</g>
</svg></body></html>
